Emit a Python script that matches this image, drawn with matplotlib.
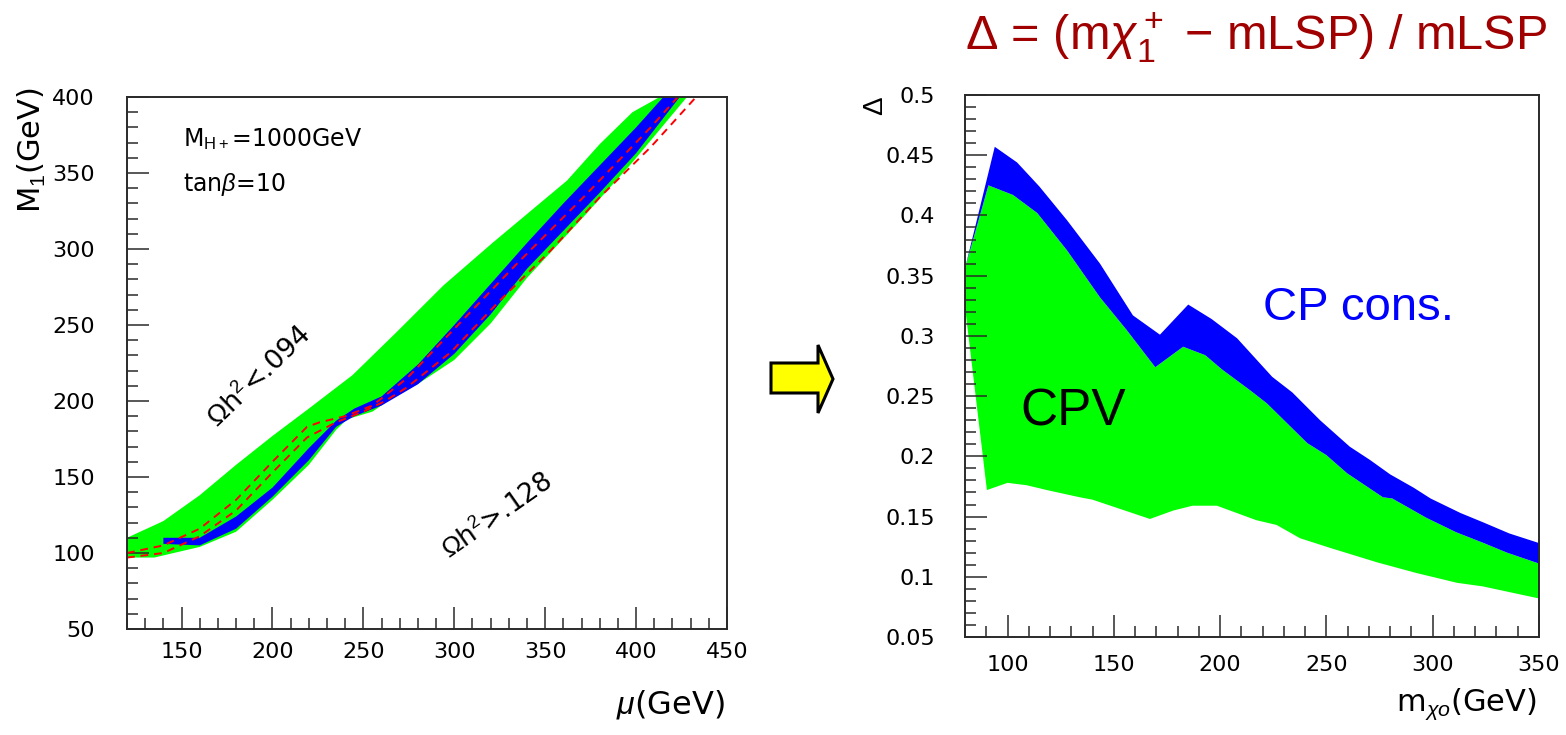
import numpy as np
import matplotlib
matplotlib.use('Agg')
import matplotlib.pyplot as plt
from matplotlib.patches import Polygon
from matplotlib.ticker import MultipleLocator, FuncFormatter

plt.rcParams['font.family'] = ['DejaVu Sans']
plt.rcParams['mathtext.fontset'] = 'custom'
plt.rcParams['mathtext.rm'] = 'Liberation Sans'
plt.rcParams['mathtext.it'] = 'Liberation Sans:italic'
plt.rcParams['mathtext.bf'] = 'Liberation Sans:bold'

# ---- left panel: M1 vs mu (GeV) ----
mu_green_hi = [120, 140, 160, 180, 200, 220, 244, 268, 294, 321, 338, 362, 380, 398, 413, 420]
m1_green_hi = [110, 121, 138, 158, 177, 195, 217, 245, 276, 304, 321, 345, 369, 390, 400, 410]
mu_green_lo = [120, 135, 160, 180, 200, 220, 235, 241, 255, 263, 281, 300, 320, 340, 371, 398, 428, 435]
m1_green_lo = [97, 97, 104, 114, 135, 158, 181, 188, 193, 199.6, 212, 227, 251, 281, 321, 357, 400, 410]

mu_blue_hi = [140, 160, 180, 200, 220, 235, 245, 260, 280, 300, 320, 340, 360, 380, 400, 415, 425]
m1_blue_hi = [110, 110, 124, 143, 169, 187, 195, 203, 224, 250, 277, 304, 330, 355, 380, 400, 411]
mu_blue_lo = [140, 160, 180, 200, 220, 235, 245, 260, 280, 300, 320, 340, 360, 380, 400, 424, 430]
m1_blue_lo = [106, 105, 116, 137, 161, 183, 190, 197, 211, 231, 257, 287, 312, 337, 363, 400, 408]

mu_red_a = [120, 140, 160, 180, 200, 219, 226, 240, 255, 274, 298, 335, 371, 408, 423]
m1_red_a = [100, 105, 116, 135, 160, 183, 186, 190, 197, 215, 245, 291, 334, 380, 400]
mu_red_b = [120, 140, 160, 180, 200, 219, 235, 250, 262, 274, 298, 325, 353, 380, 408, 433]
m1_red_b = [97, 100, 111, 128, 153, 176, 186, 193, 200, 209, 232, 266, 299, 334, 367, 400]

# ---- right panel: Delta vs m_chi0 (GeV) ----
m_cpc = [80, 94, 104.5, 115, 128, 143.5, 159, 171.7, 185, 196, 208, 224.5, 234, 247,
         261, 270.5, 280, 291, 299, 313, 324, 336, 350]
d_cpc = [0.356, 0.457, 0.444, 0.424, 0.396, 0.36, 0.317, 0.301, 0.326, 0.314, 0.298, 0.266,
         0.253, 0.23, 0.208, 0.197, 0.185, 0.174, 0.165, 0.153, 0.145, 0.136, 0.128]
m_cpv_hi = [80, 91, 102.6, 114, 128, 143.5, 156, 169.5, 182.6, 193, 201, 214, 222, 241,
            250, 259.7, 276.6, 281, 297, 311, 324, 335, 350]
d_cpv_hi = [0.356, 0.425, 0.417, 0.402, 0.371, 0.332, 0.305, 0.274, 0.291, 0.284, 0.272, 0.255,
            0.244, 0.211, 0.201, 0.186, 0.166, 0.165, 0.149, 0.137, 0.128, 0.12, 0.111]
m_cpv_lo = [80, 90.3, 100, 109, 118.5, 134, 140, 167, 178, 187, 198.5, 217, 226.6, 237.6,
            251.7, 273.8, 292.6, 311.4, 323.6, 350]
d_cpv_lo = [0.324, 0.172, 0.178, 0.176, 0.172, 0.166, 0.164, 0.148, 0.155, 0.159, 0.159, 0.147,
            0.143, 0.132, 0.124, 0.112, 0.103, 0.095, 0.092, 0.082]

GREEN = '#00ff00'
BLUE = '#0000ff'
FRAME = '#2a2a2a'

W, H = 1566, 735
fig = plt.figure(figsize=(W / 100, H / 100), dpi=100)
ax1 = fig.add_axes([127 / W, 1 - 629 / H, 600 / W, 532 / H])
ax2 = fig.add_axes([965 / W, 1 - 637 / H, 574 / W, 542 / H])


def root_style(ax, xpad, ypad):
    for s in ax.spines.values():
        s.set_color(FRAME)
        s.set_linewidth(1.4)
    ax.tick_params(which='both', direction='in', top=False, right=False,
                   color=FRAME, width=1.1, labelsize=16)
    ax.tick_params(which='major', length=16)
    ax.tick_params(which='minor', length=8)
    ax.tick_params(axis='x', pad=xpad)
    ax.tick_params(axis='y', pad=ypad)


# left
ax1.fill(np.r_[mu_green_hi, mu_green_lo[::-1]], np.r_[m1_green_hi, m1_green_lo[::-1]],
         color=GREEN, lw=0)
ax1.fill(np.r_[mu_blue_hi, mu_blue_lo[::-1]], np.r_[m1_blue_hi, m1_blue_lo[::-1]],
         color=BLUE, lw=0)
ax1.plot(mu_red_a, m1_red_a, color='red', lw=1.4, dashes=(4, 3))
ax1.plot(mu_red_b, m1_red_b, color='red', lw=1.4, dashes=(4, 3))
ax1.set_xlim(120, 450)
ax1.set_ylim(50, 400)
ax1.xaxis.set_major_locator(MultipleLocator(50))
ax1.xaxis.set_minor_locator(MultipleLocator(10))
ax1.yaxis.set_major_locator(MultipleLocator(50))
ax1.yaxis.set_minor_locator(MultipleLocator(10))
root_style(ax1, 9, 23)

ax1.text(0.093, 0.908, r'M$_{\rm H+}$=1000GeV', transform=ax1.transAxes,
         fontsize=17, va='baseline')
ax1.text(0.093, 0.823, r'tan$\beta$=10', transform=ax1.transAxes,
         fontsize=17, va='baseline')
ax1.text(193, 216, r'$\Omega$h$^2$<.094', rotation=44, fontsize=19.5,
         ha='center', va='center', rotation_mode='anchor')
ax1.text(324, 124, r'$\Omega$h$^2$>.128', rotation=35, fontsize=19,
         ha='center', va='center', rotation_mode='anchor')
ax1.text(0.997, -0.141, r'$\mu$(GeV)', transform=ax1.transAxes,
         ha='right', va='center', fontsize=23)
ax1.text(-0.158, 1.019, r'M$_1$(GeV)', transform=ax1.transAxes, rotation=90,
         ha='center', va='top', fontsize=22)

# arrow between the panels
arrow_px = [(771, 363), (818, 363), (818, 345), (833, 379), (818, 413), (818, 393), (771, 393)]
fig.patches.append(Polygon([(x / W, 1 - y / H) for x, y in arrow_px], closed=True,
                           transform=fig.transFigure, facecolor='#ffff00',
                           edgecolor='black', lw=2.2, joinstyle='miter'))

# right
ax2.fill(np.r_[m_cpv_hi, m_cpv_lo[::-1]], np.r_[d_cpv_hi, d_cpv_lo[::-1]], color=GREEN, lw=0)
ax2.fill(np.r_[m_cpc, m_cpv_hi[::-1]], np.r_[d_cpc, d_cpv_hi[::-1]], color=BLUE, lw=0)
ax2.set_xlim(80, 350)
ax2.set_ylim(0.05, 0.5)
ax2.xaxis.set_major_locator(MultipleLocator(50))
ax2.xaxis.set_minor_locator(MultipleLocator(10))
ax2.yaxis.set_major_locator(MultipleLocator(0.05))
ax2.yaxis.set_minor_locator(MultipleLocator(0.01))
ax2.yaxis.set_major_formatter(FuncFormatter(lambda v, p: f'{v:g}'))
root_style(ax2, 13, 21.5)

ax2.text(130.8, 0.226, 'CPV', fontsize=37, family='Liberation Sans',
         ha='center', va='baseline', color='black')
ax2.text(264.9, 0.313, 'CP cons.', fontsize=34, family='Liberation Sans',
         ha='center', va='baseline', color=BLUE)
ax2.text(0.997, -0.125, r'm$_{\chi o}$(GeV)', transform=ax2.transAxes,
         ha='right', va='center', fontsize=22)
ax2.text(-0.157, 0.98, r'$\Delta$', transform=ax2.transAxes, rotation=90,
         ha='center', va='center', fontsize=20)

fig.text(965 / W, 1 - 50 / H, r'$\Delta$ = (m$\chi_1^+$ − mLSP) / mLSP',
         family='Liberation Sans', fontsize=35, color='#a00000',
         ha='left', va='baseline')

fig.savefig('out.png', dpi=100)
